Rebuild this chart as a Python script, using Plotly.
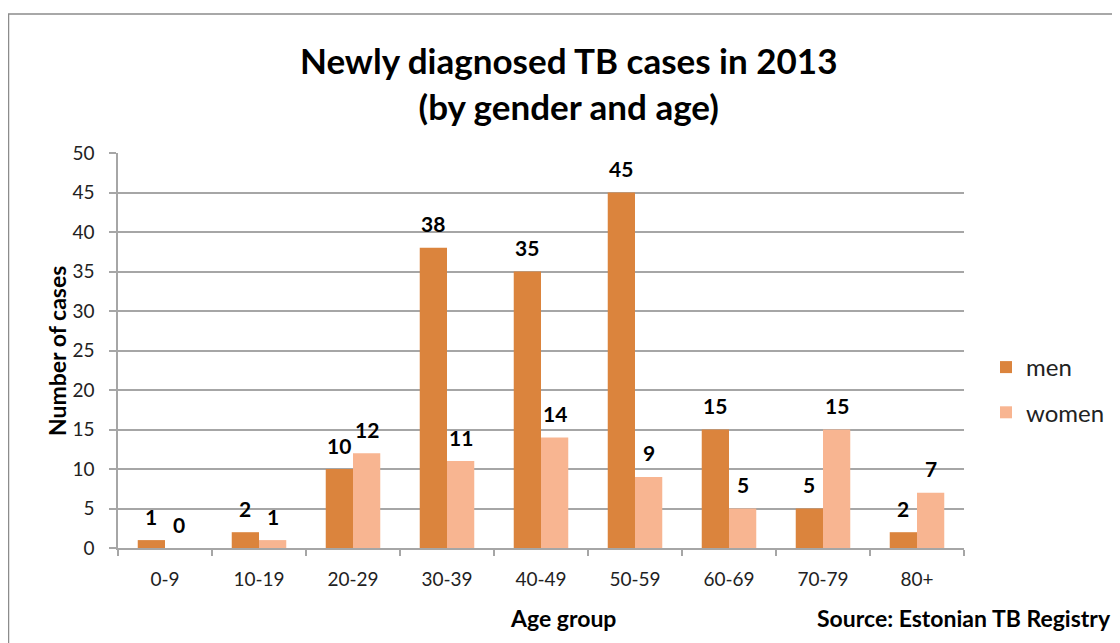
import plotly.graph_objects as go

age_groups = ["0-9", "10-19", "20-29", "30-39", "40-49", "50-59", "60-69", "70-79", "80+"]
men = [1, 2, 10, 38, 35, 45, 15, 5, 2]
women = [0, 1, 12, 11, 14, 9, 5, 15, 7]

FONT = "Lato"
MEN_COLOR = "#DB843D"
WOMEN_COLOR = "#F8B591"
GRID = "#A6A6A6"

# page body has an 8px margin; figure coords = screen coords - 8
OFF = 8
W, H = 1112, 635
L, R, T, B = 118 - OFF, W - (964 - OFF), 153 - OFF, H - (548 - OFF)
pw, ph = W - L - R, H - T - B

def px(x):
    return (x - OFF - L) / pw

def py(y):
    return 1 - (y - OFF - T) / ph

BARGAP = 0.42
bar_px = pw / len(age_groups) * (1 - BARGAP) / 2

fig = go.Figure()
fig.add_trace(go.Bar(
    x=age_groups, y=men, name="men", marker=dict(color=MEN_COLOR, line=dict(width=0)),
    legendgroup="m",
))
fig.add_trace(go.Bar(
    x=age_groups, y=women, name="women", marker=dict(color=WOMEN_COLOR, line=dict(width=0)),
    legendgroup="w",
))

# data labels
for series, shift in ((men, -bar_px / 2), (women, bar_px / 2)):
    for cat, v in zip(age_groups, series):
        fig.add_annotation(x=cat, y=v, xref="x", yref="y", text=f"<b>{v}</b>",
                           showarrow=False, xshift=shift, yshift=24,
                           xanchor="center", yanchor="middle",
                           font=dict(size=21, color="#000000", family=FONT))

fig.update_layout(
    width=W, height=H,
    margin=dict(l=L, r=R, t=T, b=B, autoexpand=False),
    paper_bgcolor="white", plot_bgcolor="white",
    font=dict(family=FONT, color="#222222"),
    barmode="group", bargap=BARGAP, bargroupgap=0,
    xaxis=dict(
        type="category", range=[-0.5, 8.5], tickson="boundaries",
        ticks="outside", ticklen=6, tickcolor=GRID, tickwidth=1.5,
        showline=True, linecolor=GRID, linewidth=1.5,
        showgrid=False, tickfont=dict(size=19, color="#222222", family=FONT),
        ticklabelstandoff=13,
    ),
    yaxis=dict(
        range=[0, 50], tickvals=list(range(0, 51, 5)),
        ticks="outside", ticklen=7, tickcolor=GRID, tickwidth=1.5,
        showline=True, linecolor=GRID, linewidth=1.5,
        showgrid=True, gridcolor=GRID, gridwidth=1.5, zeroline=False,
        tickfont=dict(size=19, color="#222222", family=FONT), ticklabelstandoff=11,
    ),
    legend=dict(
        x=px(986), y=py(345), xanchor="left", yanchor="top",
        font=dict(size=24, color="#222222", family=FONT),
        tracegroupgap=11, bgcolor="rgba(0,0,0,0)",
    ),
    showlegend=True,
)

fig.add_annotation(text="<b>Newly diagnosed TB cases in 2013<br>(by gender and age)</b>",
                   x=px(568), y=py(83), xref="paper", yref="paper",
                   xanchor="center", yanchor="middle",
                   showarrow=False, font=dict(size=35, color="#000000", family=FONT))
fig.add_annotation(text="<b>Number of cases</b>", textangle=-90,
                   x=px(57), y=py(351), xref="paper", yref="paper",
                   xanchor="center", yanchor="middle",
                   showarrow=False, font=dict(size=23, color="#000000", family=FONT))
fig.add_annotation(text="<b>Age group</b>", x=px(563), y=py(618), xref="paper", yref="paper",
                   xanchor="center", yanchor="middle",
                   showarrow=False, font=dict(size=23, color="#000000", family=FONT))
fig.add_annotation(text="<b>Source: Estonian TB Registry</b>", x=px(1113), y=py(618),
                   xref="paper", yref="paper", xanchor="right", yanchor="middle",
                   showarrow=False, font=dict(size=23, color="#000000", family=FONT))

fig.add_shape(type="rect", xref="paper", yref="paper",
              x0=px(8.5), x1=px(1160), y0=py(680), y1=py(14),
              line=dict(color="#8C8C8C", width=1.5), fillcolor="rgba(0,0,0,0)", layer="below")

fig.write_html("out.html")
